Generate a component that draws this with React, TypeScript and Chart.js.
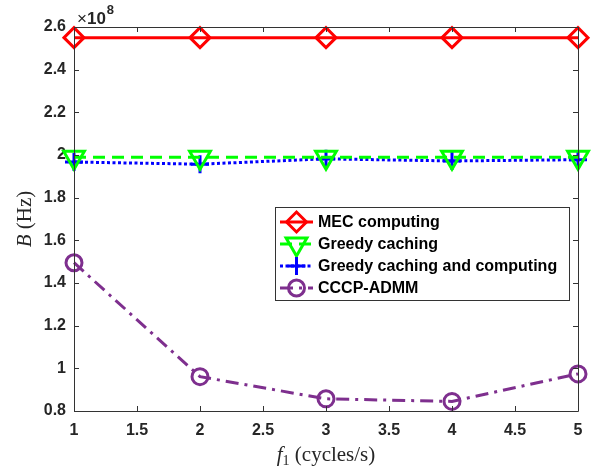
import React, { useEffect, useRef } from "react";
import { Chart, registerables } from "chart.js";
import { drawPoint } from "chart.js/helpers";

Chart.register(...registerables);

const xValues = [1, 2, 3, 4, 5];
const mecComputing = [2.55, 2.55, 2.55, 2.55, 2.55];
const greedyCaching = [1.99, 1.99, 1.99, 1.99, 1.99];
const greedyCachingComputing = [1.967, 1.957, 1.982, 1.972, 1.978];
const cccpAdmm = [1.495, 0.961, 0.857, 0.845, 0.974];
const seriesNames = ["MEC computing", "Greedy caching", "Greedy caching and computing", "CCCP-ADMM"];

const AXIS_COLOR = "#333333";
const TEXT_COLOR = "#262626";

const boxPlugin = {
  id: "matlabBox",
  afterDraw(chart: any) {
    const ctx = chart.ctx;
    const { left, right, top, bottom } = chart.chartArea;
    const xs = chart.scales.x;
    const ys = chart.scales.y;
    ctx.save();
    ctx.strokeStyle = AXIS_COLOR;
    ctx.lineWidth = 1;
    ctx.beginPath();
    ctx.rect(Math.round(left) + 0.5, Math.round(top) + 0.5, Math.round(right - left), Math.round(bottom - top));
    ctx.stroke();
    const tl = 5;
    ctx.beginPath();
    xs.ticks.forEach((t: any) => {
      const px = Math.round(xs.getPixelForValue(t.value)) + 0.5;
      ctx.moveTo(px, bottom);
      ctx.lineTo(px, bottom - tl);
      ctx.moveTo(px, top);
      ctx.lineTo(px, top + tl);
    });
    ys.ticks.forEach((t: any) => {
      const py = Math.round(ys.getPixelForValue(t.value)) + 0.5;
      ctx.moveTo(left, py);
      ctx.lineTo(left + tl, py);
      ctx.moveTo(right, py);
      ctx.lineTo(right - tl, py);
    });
    ctx.stroke();

    // exponent label
    ctx.fillStyle = TEXT_COLOR;
    ctx.textBaseline = "alphabetic";
    ctx.textAlign = "left";
    ctx.font = "17px 'Liberation Sans'";
    ctx.fillText("\u00d7", left + 3, 24);
    const wx = ctx.measureText("\u00d7").width;
    ctx.font = "bold 17px 'Liberation Sans'";
    ctx.fillText("10", left + 3 + wx, 24);
    const w10 = ctx.measureText("10").width;
    ctx.font = "bold 13px 'Liberation Sans'";
    ctx.fillText("8", left + 4 + wx + w10, 14);

    // x axis title
    ctx.fillStyle = TEXT_COLOR;
    const cx = (left + right) / 2;
    const partsX = [
      { t: "f", f: "italic 21px 'Liberation Serif'", dy: 0 },
      { t: "1", f: "14px 'Liberation Serif'", dy: 4 },
      { t: " (cycles/s)", f: "21px 'Liberation Serif'", dy: 0 },
    ];
    let total = 0;
    partsX.forEach((p) => { ctx.font = p.f; total += ctx.measureText(p.t).width; });
    let x0 = cx - total / 2;
    const by = 461;
    partsX.forEach((p) => {
      ctx.font = p.f;
      ctx.fillText(p.t, x0, by + p.dy);
      x0 += ctx.measureText(p.t).width;
    });

    // y axis title
    ctx.save();
    ctx.translate(31, (top + bottom) / 2);
    ctx.rotate(-Math.PI / 2);
    const partsY = [
      { t: "B", f: "italic 21px 'Liberation Serif'" },
      { t: " (Hz)", f: "21px 'Liberation Serif'" },
    ];
    total = 0;
    partsY.forEach((p) => { ctx.font = p.f; total += ctx.measureText(p.t).width; });
    x0 = -total / 2;
    partsY.forEach((p) => {
      ctx.font = p.f;
      ctx.fillText(p.t, x0, 0);
      x0 += ctx.measureText(p.t).width;
    });
    ctx.restore();

    // legend
    const lx = 275, ly = 207, lw = 294, lh = 93;
    ctx.fillStyle = "#ffffff";
    ctx.fillRect(lx, ly, lw, lh);
    ctx.strokeStyle = AXIS_COLOR;
    ctx.lineWidth = 1;
    ctx.strokeRect(lx + 0.5, ly + 0.5, lw, lh);
    const rowsY = [222, 244, 266, 288];
    chart.data.datasets.forEach((ds: any, i: number) => {
      const y = rowsY[i];
      ctx.save();
      ctx.strokeStyle = ds.borderColor;
      ctx.lineWidth = ds.borderWidth;
      ctx.setLineDash(ds.borderDash || []);
      ctx.beginPath();
      ctx.moveTo(280, y);
      ctx.lineTo(313, y);
      ctx.stroke();
      ctx.setLineDash([]);
      ctx.strokeStyle = ds.pointBorderColor;
      ctx.fillStyle = ds.pointBackgroundColor;
      ctx.lineWidth = ds.pointBorderWidth;
      drawPoint(ctx, { pointStyle: ds.pointStyle, rotation: ds.pointRotation || 0, radius: ds.pointRadius, borderWidth: ds.pointBorderWidth }, 296.5, y);
      ctx.restore();
      ctx.fillStyle = "#000000";
      ctx.font = "bold 16px 'Liberation Sans'";
      ctx.textBaseline = "middle";
      ctx.fillText(seriesNames[i], 318, y + 1);
    });
    ctx.restore();
  },
};

function toPoints(ys: number[]) {
  return ys.map((y, i) => ({ x: xValues[i], y }));
}

export default function App() {
  const ref = useRef<HTMLCanvasElement | null>(null);
  useEffect(() => {
    if (!ref.current) return;
    const chart = new Chart(ref.current, {
      type: "line",
      data: {
        datasets: [
          {
            label: seriesNames[0],
            data: toPoints(mecComputing),
            borderColor: "#ff0000",
            borderWidth: 3,
            pointStyle: "rectRot",
            pointRadius: 10,
            pointBorderWidth: 3,
            pointBorderColor: "#ff0000",
            pointBackgroundColor: "rgba(0,0,0,0)",
            clip: false,
          } as any,
          {
            label: seriesNames[1],
            data: toPoints(greedyCaching),
            borderColor: "#00ff00",
            borderWidth: 3,
            borderDash: [12, 7],
            pointStyle: "triangle",
            pointRotation: 180,
            pointRadius: 12,
            pointBorderWidth: 3,
            pointBorderColor: "#00ff00",
            pointBackgroundColor: "rgba(0,0,0,0)",
            clip: false,
          },
          {
            label: seriesNames[2],
            data: toPoints(greedyCachingComputing),
            borderColor: "#0000ff",
            borderWidth: 3,
            borderDash: [3, 2.5],
            pointStyle: "cross",
            pointRadius: 9,
            pointBorderWidth: 3,
            pointBorderColor: "#0000ff",
            pointBackgroundColor: "rgba(0,0,0,0)",
            clip: false,
          },
          {
            label: seriesNames[3],
            data: toPoints(cccpAdmm),
            borderColor: "#7e2f8e",
            borderWidth: 3,
            borderDash: [13, 6, 3, 6],
            pointStyle: "circle",
            pointRadius: 8,
            pointBorderWidth: 3,
            pointBorderColor: "#7e2f8e",
            pointBackgroundColor: "rgba(0,0,0,0)",
            clip: false,
          },
        ],
      },
      options: {
        animation: false,
        responsive: false,
        events: [],
        layout: { padding: { top: 27, right: 17, left: 0, bottom: 0 } },
        plugins: { legend: { display: false }, tooltip: { enabled: false } },
        elements: { line: { tension: 0 } },
        scales: {
          x: {
            type: "linear",
            min: 1,
            max: 5,
            grid: { display: false, drawTicks: false },
            border: { display: false },
            ticks: {
              stepSize: 0.5,
              padding: 10,
              color: TEXT_COLOR,
              font: { family: "'Liberation Sans'", size: 16, weight: "bold" },
              maxRotation: 0,
              callback: (v: any) => String(Number(Number(v).toFixed(1))),
            },
            afterFit: (s: any) => { s.height = 57; },
          },
          y: {
            type: "linear",
            min: 0.8,
            max: 2.6,
            grid: { display: false, drawTicks: false },
            border: { display: false },
            ticks: {
              stepSize: 0.2,
              padding: 8,
              color: TEXT_COLOR,
              font: { family: "'Liberation Sans'", size: 16, weight: "bold" },
              callback: (v: any) => String(Number(Number(v).toFixed(1))),
            },
            afterFit: (s: any) => { s.width = 74; },
          },
        },
      },
      plugins: [boxPlugin],
    } as any);
    return () => chart.destroy();
  }, []);
  return (
    <div style={{ position: "fixed", left: 0, top: 0, width: 595, height: 468, background: "#fff" }}>
      <canvas ref={ref} width={595} height={468} style={{ width: 595, height: 468, display: "block" }} />
    </div>
  );
}
